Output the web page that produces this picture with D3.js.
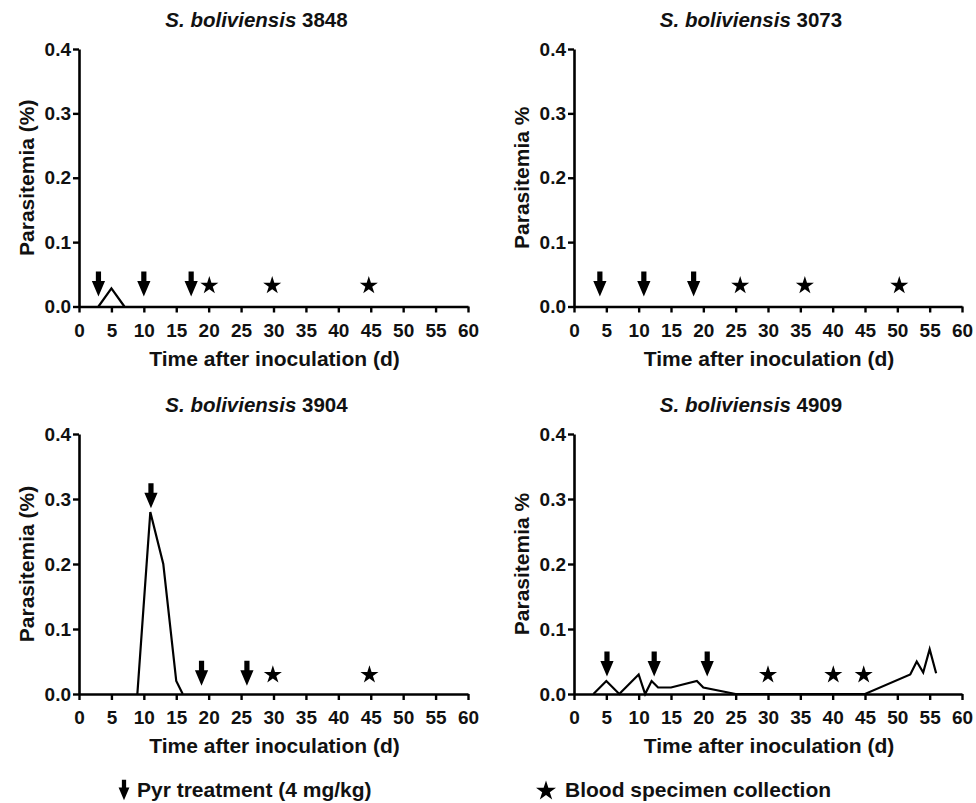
<!DOCTYPE html>
<html>
<head>
<meta charset="utf-8">
<script src="https://cdn.jsdelivr.net/npm/d3@7"></script>
<style>
  html, body { margin: 0; padding: 0; background: #fff; }
  svg { display: block; font-family: "Liberation Sans", Arial, Helvetica, sans-serif; }
</style>
</head>
<body>
<svg id="chart" width="976" height="803"></svg>
<script>
// ---------- data ----------
const xTicks = [0, 5, 10, 15, 20, 25, 30, 35, 40, 45, 50, 55, 60];
const yTicks = [0.0, 0.1, 0.2, 0.3, 0.4];
const strainIds = ["3848", "3073", "3904", "4909"];
const yTitles = ["Parasitemia (%)", "Parasitemia %", "Parasitemia (%)", "Parasitemia %"];
const xTitle = "Time after inoculation (d)";

// parasitemia series (day, %)
const days3848 = [3, 5, 7];
const para3848 = [0, 0.028, 0];
const days3073 = [];
const para3073 = [];
const days3904 = [9, 11, 13, 15, 16];
const para3904 = [0, 0.28, 0.2, 0.02, 0];
const days4909 = [3, 5, 7, 10, 11, 12, 13, 15, 19, 20, 25, 45, 52, 53, 54, 55, 56];
const para4909 = [0, 0.02, 0, 0.03, 0, 0.02, 0.01, 0.01, 0.02, 0.01, 0, 0, 0.03, 0.05, 0.033, 0.069, 0.032];

// Pyr treatment arrows (day, level of arrow centre)
const arrowDays3848 = [3, 10, 17.3];
const arrowLvl3848 = [0.035, 0.035, 0.035];
const arrowDays3073 = [4, 10.8, 18.5];
const arrowLvl3073 = [0.035, 0.035, 0.035];
const arrowDays3904 = [11.1, 18.9, 25.9];
const arrowLvl3904 = [0.305, 0.032, 0.032];
const arrowDays4909 = [5.1, 12.4, 20.6];
const arrowLvl4909 = [0.046, 0.046, 0.046];

// blood specimen collection stars (day, level)
const starDays3848 = [20.1, 29.8, 44.7];
const starLvl3848 = [0.034, 0.034, 0.034];
const starDays3073 = [25.7, 35.7, 50.3];
const starLvl3073 = [0.034, 0.034, 0.034];
const starDays3904 = [29.9, 44.8];
const starLvl3904 = [0.031, 0.031];
const starDays4909 = [30, 40.1, 44.8];
const starLvl4909 = [0.031, 0.031, 0.031];

const legendLabels = ["Pyr treatment (4 mg/kg)", "Blood specimen collection"];

// ---------- build ----------
const zip = (a, b) => a.map((d, i) => [d, b[i]]);
const panels = [
  { id: strainIds[0], yTitle: yTitles[0], line: zip(days3848, para3848), arrows: zip(arrowDays3848, arrowLvl3848), stars: zip(starDays3848, starLvl3848), x0: 79, x1: 468, y0: 49, y1: 306.5 },
  { id: strainIds[1], yTitle: yTitles[1], line: zip(days3073, para3073), arrows: zip(arrowDays3073, arrowLvl3073), stars: zip(starDays3073, starLvl3073), x0: 574, x1: 962, y0: 49, y1: 306.5 },
  { id: strainIds[2], yTitle: yTitles[2], line: zip(days3904, para3904), arrows: zip(arrowDays3904, arrowLvl3904), stars: zip(starDays3904, starLvl3904), x0: 79, x1: 468, y0: 434, y1: 694 },
  { id: strainIds[3], yTitle: yTitles[3], line: zip(days4909, para4909), arrows: zip(arrowDays4909, arrowLvl4909), stars: zip(starDays4909, starLvl4909), x0: 574, x1: 962, y0: 434, y1: 694 }
];

const svg = d3.select("#chart");

function starPath(R) {
  const r = R * 0.382;
  const pts = [];
  for (let i = 0; i < 10; i++) {
    const rad = i % 2 === 0 ? R : r;
    const a = -Math.PI / 2 + i * Math.PI / 5;
    pts.push([rad * Math.cos(a), rad * Math.sin(a)]);
  }
  return "M" + pts.map(p => p[0].toFixed(2) + "," + p[1].toFixed(2)).join("L") + "Z";
}
function arrowPath(s) {
  // centred at 0,0, pointing down
  const p = [[-2.6, -12.5], [2.6, -12.5], [2.6, -3], [6.6, -3], [0, 12.5], [-6.6, -3], [-2.6, -3]];
  return "M" + p.map(q => (q[0] * s).toFixed(2) + "," + (q[1] * s).toFixed(2)).join("L") + "Z";
}

panels.forEach(p => {
  const x = d3.scaleLinear().domain([0, 60]).range([p.x0, p.x1]);
  const y = d3.scaleLinear().domain([0, 0.4]).range([p.y1, p.y0]);
  const g = svg.append("g");

  // line
  if (p.line.length) {
    g.append("path")
      .datum(p.line)
      .attr("fill", "none")
      .attr("stroke", "#000")
      .attr("stroke-width", 2.2)
      .attr("stroke-linejoin", "miter")
      .attr("d", d3.line().x(d => x(d[0])).y(d => y(d[1])));
  }

  // axes
  const xAxis = d3.axisBottom(x).tickValues(xTicks).tickSize(6).tickSizeOuter(0).tickPadding(11).tickFormat(d3.format("d"));
  const yAxis = d3.axisLeft(y).tickValues(yTicks).tickSize(6).tickSizeOuter(0).tickPadding(2).tickFormat(d3.format(".1f"));
  const gx = g.append("g").attr("transform", `translate(0,${p.y1})`).call(xAxis);
  const gy = g.append("g").attr("transform", `translate(${p.x0},0)`).call(yAxis);
  [gx, gy].forEach(a => {
    a.select(".domain").attr("stroke", "#000").attr("stroke-width", 2.6);
    a.selectAll(".tick line").attr("stroke", "#000").attr("stroke-width", 2.4);
    a.selectAll(".tick text").attr("fill", "#111").attr("font-size", 19).attr("font-weight", "bold")
      .attr("font-family", "'Liberation Sans', Arial, sans-serif");
  });

  // arrows
  g.selectAll("path.arrow").data(p.arrows).enter().append("path")
    .attr("class", "arrow")
    .attr("d", arrowPath(1))
    .attr("fill", "#000")
    .attr("transform", d => `translate(${x(d[0])},${y(d[1])})`);

  // stars
  g.selectAll("path.star").data(p.stars).enter().append("path")
    .attr("class", "star")
    .attr("d", starPath(9.5))
    .attr("fill", "#000")
    .attr("transform", d => `translate(${x(d[0])},${y(d[1]) + 1})`);

  // title
  const cx = (p.x0 + p.x1) / 2;
  const t = g.append("text")
    .attr("x", cx - 17)
    .attr("y", p.y0 - 22)
    .attr("text-anchor", "middle")
    .attr("font-size", 20.5)
    .attr("font-weight", "bold")
    .attr("fill", "#111");
  t.append("tspan").attr("font-style", "italic").text("S. boliviensis");
  t.append("tspan").text(" " + p.id);

  // x title
  g.append("text")
    .attr("x", cx + 1)
    .attr("y", p.y1 + 59)
    .attr("text-anchor", "middle")
    .attr("font-size", 21)
    .attr("font-weight", "bold")
    .attr("fill", "#111")
    .text(xTitle);

  // y title
  g.append("text")
    .attr("transform", `translate(${p.x0 - 45},${(p.y0 + p.y1) / 2}) rotate(-90)`)
    .attr("text-anchor", "middle")
    .attr("font-size", 21)
    .attr("font-weight", "bold")
    .attr("fill", "#111")
    .text(p.yTitle);
});

// legend
const lg = svg.append("g");
lg.append("path").attr("d", arrowPath(0.82)).attr("fill", "#000").attr("transform", "translate(124,790)");
lg.append("text").attr("x", 137).attr("y", 797).attr("font-size", 21).attr("font-weight", "bold").attr("fill", "#111").text(legendLabels[0]);
lg.append("path").attr("d", starPath(10.5)).attr("fill", "#000").attr("transform", "translate(546,791)");
lg.append("text").attr("x", 565).attr("y", 797).attr("font-size", 21).attr("font-weight", "bold").attr("fill", "#111").text(legendLabels[1]);
</script>
</body>
</html>
